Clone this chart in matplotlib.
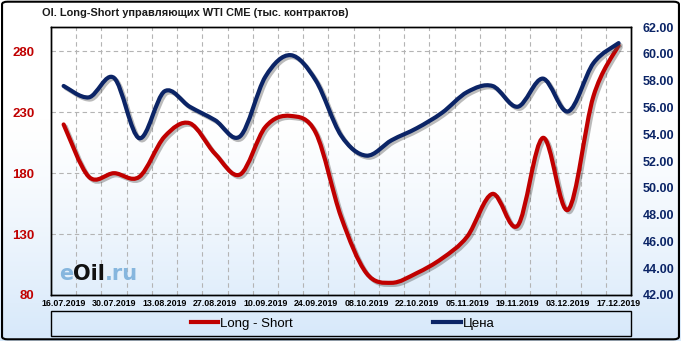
import matplotlib.pyplot as plt
import numpy as np
from matplotlib.path import Path
from matplotlib.patches import PathPatch, FancyBboxPatch, Rectangle
from matplotlib.lines import Line2D
import matplotlib.patheffects as pe

# weekly data (CFTC, Tuesdays)
dates = ['16.07.2019', '23.07.2019', '30.07.2019', '06.08.2019', '13.08.2019',
         '20.08.2019', '27.08.2019', '03.09.2019', '10.09.2019', '17.09.2019',
         '24.09.2019', '01.10.2019', '08.10.2019', '15.10.2019', '22.10.2019',
         '29.10.2019', '05.11.2019', '12.11.2019', '19.11.2019', '26.11.2019',
         '03.12.2019', '10.12.2019', '17.12.2019']
long_short = [220, 177, 180, 177, 210, 221, 196, 179, 218, 227, 213, 144,
              98, 90, 98, 110, 128, 163, 137, 209, 150, 243, 285]
price = [57.6, 56.75, 58.2, 53.7, 57.2, 56.05, 55.05, 53.85, 58.3, 59.9, 58.0,
         53.9, 52.4, 53.55, 54.45, 55.6, 57.15, 57.6, 56.05, 58.15, 55.7, 59.3, 60.8]

red = '#c00000'
navy = '#0b2466'

plt.rcParams['font.family'] = ['Liberation Sans', 'DejaVu Sans']


def smooth_path(x, y):
    # excel-like smoothed line: cubic bezier segments through the points
    px = np.concatenate([[x[0]], x, [x[-1]]]).astype(float)
    py = np.concatenate([[y[0]], y, [y[-1]]]).astype(float)
    verts = [(px[1], py[1])]
    codes = [Path.MOVETO]
    for i in range(1, len(x)):
        c1 = (px[i] + (px[i + 1] - px[i - 1]) / 6, py[i] + (py[i + 1] - py[i - 1]) / 6)
        c2 = (px[i + 1] - (px[i + 2] - px[i]) / 6, py[i + 1] - (py[i + 2] - py[i]) / 6)
        verts += [c1, c2, (px[i + 1], py[i + 1])]
        codes += [Path.CURVE4] * 3
    return Path(verts, codes)


fig = plt.figure(figsize=(6.81, 3.41), dpi=100)

# background gradient
bg = fig.add_axes([0, 0, 1, 1], zorder=-10)
t = np.linspace(0, 1, 256)[:, None]
ramp = np.clip((t - 0.35) / 0.65, 0, 1) ** 1.3
top = np.array([1.0, 1.0, 1.0])
bot = np.array([0.84, 0.91, 0.98])
grad = top + (bot - top) * ramp[..., None]
bg.imshow(np.repeat(grad, 2, axis=1), aspect='auto', extent=[0, 1, 0, 1], origin='upper')
bg.set_axis_off()

ax = fig.add_axes([0.0749, 0.1349, 0.852, 0.7859])
ax.patch.set_alpha(0)
ax2 = ax.twinx()

x = np.arange(len(dates))
shadow = [pe.SimpleLineShadow(offset=(1.5, -1.5), shadow_color='#555555', alpha=0.4), pe.Normal()]

p1 = PathPatch(smooth_path(x, long_short), fill=False, edgecolor=red, lw=3.0,
               capstyle='round', joinstyle='round', path_effects=shadow)
ax.add_patch(p1)
p2 = PathPatch(smooth_path(x, price), fill=False, edgecolor=navy, lw=3.0,
               capstyle='round', joinstyle='round', path_effects=shadow)
ax2.add_patch(p2)

ax.set_xlim(-0.5, len(dates) - 0.5)
ax.set_ylim(80, 300)
ax2.set_ylim(42, 62)

ax.set_yticks(np.arange(80, 281, 50))
ax2.set_yticks(np.arange(42, 62.1, 2))
ax2.set_yticklabels([f'{v:.2f}' for v in np.arange(42, 62.1, 2)])
ax.set_xticks(x[::2])
ax.set_xticklabels(dates[::2])
ax.set_xticks(np.arange(0.5, len(dates) - 1, 1), minor=True)

ax.grid(axis='y', which='major', color='#b4b4b4', ls=(0, (4, 3)), lw=0.8)
ax.grid(axis='x', which='minor', color='#b4b4b4', ls=(0, (4, 3)), lw=0.8)
ax.set_axisbelow(True)

ax.tick_params(axis='x', which='both', length=0, pad=3, labelsize=6.4)
ax.tick_params(axis='y', length=0, pad=12, labelsize=9.5, labelcolor=red)
ax2.tick_params(axis='y', length=0, pad=8, labelsize=9, labelcolor=navy)
for lab in ax.get_xticklabels():
    lab.set_fontweight('bold')
for lab in ax.get_yticklabels() + ax2.get_yticklabels():
    lab.set_fontweight('bold')

for a in (ax, ax2):
    for s in a.spines.values():
        s.set_color('black')
        s.set_linewidth(1.0)

fig.text(0.0617, 0.962, 'OI. Long-Short управляющих WTI CME (тыс. контрактов)',
         fontsize=7.9, fontweight='bold', color='#1a1a1a', va='center', ha='left')

# watermark
t1 = ax.text(0.014, 0.08, 'e', transform=ax.transAxes, fontsize=15, color='#86b6de',
             va='center', ha='left', fontweight='bold', family='DejaVu Sans')
t2 = ax.annotate('Oil', xy=(1, 0), xycoords=t1, va='bottom', ha='left', family='DejaVu Sans',
                 fontsize=15, color='#111111', fontweight='bold')
ax.annotate('.ru', xy=(1, 0), xycoords=t2, va='bottom', ha='left', family='DejaVu Sans',
            fontsize=15, color='#86b6de', fontweight='bold')

# legend
handles = [Line2D([], [], color=red, lw=3), Line2D([], [], color=navy, lw=3)]
fig.legend(handles, ['Long - Short', 'Цена'], loc='center', ncol=2,
           bbox_to_anchor=(0.503, 0.0513), frameon=False, fontsize=9.5,
           handlelength=2.1, handletextpad=0.15, columnspacing=10.6)
fig.add_artist(Rectangle((0.0749, 0.0147), 0.852, 0.073, transform=fig.transFigure,
                         fill=False, edgecolor='black', lw=1.0))

# outer frame
fig.add_artist(FancyBboxPatch((0.003, 0.005), 0.994, 0.99, boxstyle='round,pad=0,rounding_size=0.008',
                              transform=fig.transFigure, fill=False, edgecolor='black', lw=1.5))

fig.savefig('out.png', dpi=100)
